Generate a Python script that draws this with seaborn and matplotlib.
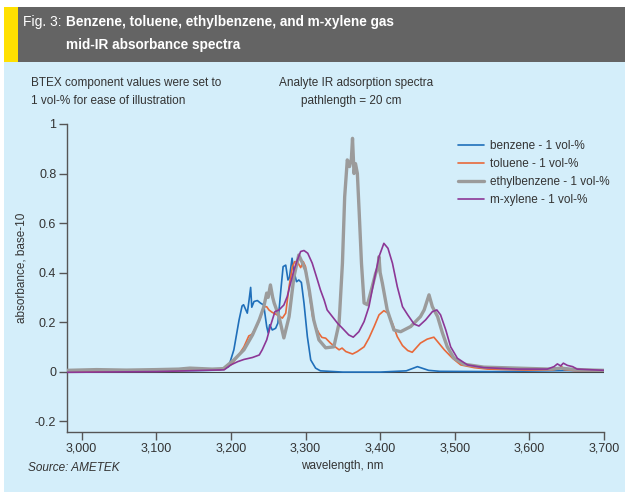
import matplotlib
matplotlib.use('Agg')
import matplotlib.pyplot as plt
from matplotlib.patches import Rectangle
import numpy as np
import pandas as pd
import seaborn as sns

sns.set_theme(style='ticks')
plt.rcParams['font.family'] = ['Liberation Sans', 'DejaVu Sans']

# benzene
benzene_wl = [2980, 3050, 3100, 3150, 3185, 3197, 3204, 3211, 3215, 3217, 3222, 3224,
              3226.5, 3228, 3231, 3235.5, 3240, 3244, 3248, 3250, 3252, 3255.5, 3260,
              3263, 3267, 3270, 3273.5, 3276.5, 3278.5, 3282, 3284, 3288, 3291, 3294.5,
              3298, 3302.5, 3307, 3313.5, 3320, 3350, 3400, 3435, 3450, 3465, 3480,
              3550, 3600, 3650, 3700]
benzene_ab = [0.003, 0.002, 0.003, 0.004, 0.006, 0.02, 0.088, 0.209, 0.265, 0.27, 0.236,
              0.28, 0.34, 0.26, 0.283, 0.287, 0.276, 0.269, 0.182, 0.156, 0.189, 0.168,
              0.175, 0.196, 0.33, 0.424, 0.43, 0.37, 0.38, 0.458, 0.41, 0.363, 0.37, 0.36,
              0.276, 0.141, 0.047, 0.014, 0.003, -0.002, -0.002, 0.003, 0.02, 0.005,
              0.001, 0.0, 0.002, 0.004, 0.002]

# toluene
toluene_wl = [2980, 3100, 3185, 3200, 3209, 3217.5, 3224, 3228, 3235.5, 3240, 3244, 3248,
              3251, 3255, 3262, 3269, 3273.5, 3278, 3282.5, 3285.5, 3289, 3293.5, 3297,
              3300, 3305, 3309.5, 3313.5, 3318, 3322, 3327, 3333.5, 3338, 3345, 3349,
              3354, 3363, 3369.5, 3378.5, 3385, 3392, 3398.5, 3405, 3410.5, 3416.5, 3423,
              3430, 3437, 3443, 3454, 3463, 3472, 3477, 3486, 3497, 3508, 3526, 3544,
              3600, 3630, 3640, 3643, 3646, 3660, 3700]
toluene_ab = [0.002, 0.003, 0.008, 0.027, 0.06, 0.10, 0.144, 0.15, 0.189, 0.222, 0.262,
              0.262, 0.249, 0.24, 0.229, 0.216, 0.236, 0.344, 0.424, 0.444, 0.444, 0.42,
              0.444, 0.424, 0.316, 0.222, 0.182, 0.155, 0.138, 0.135, 0.115, 0.104, 0.088,
              0.095, 0.081, 0.071, 0.081, 0.10, 0.135, 0.182, 0.229, 0.246, 0.236, 0.195,
              0.141, 0.105, 0.085, 0.078, 0.115, 0.131, 0.139, 0.121, 0.088, 0.054, 0.027,
              0.016, 0.01, 0.006, 0.006, 0.012, 0.022, 0.008, 0.004, 0.003]

# ethylbenzene
ethyl_wl = [2980, 3020, 3060, 3100, 3130, 3145, 3160, 3175, 3190, 3204, 3217.5, 3229,
            3238, 3244, 3248, 3250, 3253, 3256, 3258, 3264.5, 3271, 3278, 3284.5, 3291,
            3296, 3300, 3305, 3311, 3318, 3327, 3338, 3345, 3349.5, 3352.5, 3356, 3359,
            3361.5, 3363, 3365, 3367, 3369.5, 3372, 3375, 3378.5, 3383, 3389.5, 3394,
            3397, 3398.5, 3400, 3403, 3409.5, 3418.5, 3427.5, 3441, 3454, 3459, 3465.5,
            3470, 3477, 3483.5, 3490, 3499, 3512, 3539, 3584, 3629, 3642, 3655, 3673, 3700]
ethyl_ab = [0.005, 0.008, 0.006, 0.008, 0.01, 0.014, 0.012, 0.01, 0.012, 0.047, 0.088,
            0.148, 0.209, 0.26, 0.317, 0.3, 0.35, 0.3, 0.277, 0.222, 0.136, 0.222, 0.383,
            0.471, 0.438, 0.41, 0.33, 0.209, 0.128, 0.096, 0.10, 0.196, 0.438, 0.706,
            0.855, 0.828, 0.86, 0.942, 0.80, 0.84, 0.80, 0.64, 0.438, 0.277, 0.27, 0.344,
            0.397, 0.42, 0.464, 0.40, 0.357, 0.249, 0.168, 0.161, 0.182, 0.222, 0.249,
            0.31, 0.262, 0.222, 0.156, 0.10, 0.054, 0.03, 0.018, 0.014, 0.01, 0.014,
            0.01, 0.007, 0.005]

# m-xylene
xylene_wl = [2980, 3100, 3191, 3200, 3209, 3217.5, 3229, 3238, 3242, 3248, 3253.5, 3259,
             3264.5, 3271, 3275.5, 3280, 3284.5, 3289, 3293.5, 3298, 3303, 3309, 3316,
             3320, 3325, 3329, 3336, 3343, 3349.5, 3358, 3364, 3371.5, 3378.5, 3385,
             3392, 3398.5, 3405, 3410.5, 3416.5, 3423, 3430, 3437, 3445.5, 3452, 3461,
             3470, 3476, 3481, 3488, 3494.5, 3503.5, 3517, 3539, 3584, 3624, 3633,
             3637.5, 3642, 3645.5, 3651, 3658, 3664, 3700]
xylene_ab = [-0.003, 0.0, 0.007, 0.027, 0.04, 0.049, 0.057, 0.067, 0.088, 0.128, 0.189,
             0.242, 0.249, 0.269, 0.303, 0.357, 0.41, 0.45, 0.485, 0.489, 0.478, 0.438,
             0.37, 0.33, 0.289, 0.249, 0.222, 0.195, 0.175, 0.148, 0.139, 0.161, 0.202,
             0.262, 0.37, 0.464, 0.518, 0.498, 0.438, 0.343, 0.262, 0.229, 0.192, 0.184,
             0.209, 0.242, 0.249, 0.229, 0.168, 0.10, 0.054, 0.027, 0.016, 0.01, 0.01,
             0.02, 0.031, 0.023, 0.034, 0.025, 0.02, 0.01, 0.005]

x_ticks = [3000, 3100, 3200, 3300, 3400, 3500, 3600, 3700]
y_ticks = [-0.2, 0, 0.2, 0.4, 0.6, 0.8, 1]

BG = '#d4eefa'
TXT = '#333333'
FS = 8.5

series = [
    ('benzene - 1 vol-%', benzene_wl, benzene_ab, '#1f6fba', 1.2),
    ('toluene - 1 vol-%', toluene_wl, toluene_ab, '#e8693a', 1.2),
    ('ethylbenzene - 1 vol-%', ethyl_wl, ethyl_ab, '#9b9b9b', 2.4),
    ('m-xylene - 1 vol-%', xylene_wl, xylene_ab, '#8c3796', 1.2),
]

fig = plt.figure(figsize=(6.25, 4.92), dpi=100, facecolor=BG)
W, H = 625, 492


def fx(px):
    return px / W


def fy(py):
    return 1 - py / H


# header band
fig.patches.append(Rectangle((0, fy(7)), 1, 7 / H, transform=fig.transFigure,
                             facecolor='white', edgecolor='none'))
fig.patches.append(Rectangle((0, 0), fx(4), 1, transform=fig.transFigure,
                             facecolor='white', edgecolor='none'))
fig.patches.append(Rectangle((fx(4), fy(62)), 1, 55 / H, transform=fig.transFigure,
                             facecolor='#646464', edgecolor='none'))
fig.patches.append(Rectangle((fx(4), fy(62)), 14 / W, 55 / H, transform=fig.transFigure,
                             facecolor='#ffe000', edgecolor='none'))

fig.text(fx(23), fy(22), 'Fig. 3:', color='white', fontsize=10, va='center')
fig.text(fx(66), fy(22), 'Benzene, toluene, ethylbenzene, and m-xylene gas',
         color='white', fontsize=9.8, fontweight='bold', va='center')
fig.text(fx(66), fy(45), 'mid-IR absorbance spectra',
         color='white', fontsize=9.8, fontweight='bold', va='center')

ax = fig.add_axes([fx(66.7), fy(432), fx(604) - fx(66.7), fy(124) - fy(432)])
ax.set_facecolor(BG)

ax.axhline(0, color='#444444', lw=0.8, zorder=1)
for label, wl, ab, col, lw in series:
    sns.lineplot(x=wl, y=ab, ax=ax, color=col, lw=lw, label=label,
                 estimator=None, sort=False, zorder=3)

ax.set_xlim(2980, 3700)
ax.set_ylim(-0.244, 1.0)
ax.set_xticks(x_ticks)
ax.set_xticklabels([f'{t:,}' for t in x_ticks])
ax.set_yticks(y_ticks)
ax.set_yticklabels(['-0.2', '0', '0.2', '0.4', '0.6', '0.8', '1'])
for s in ['top', 'right']:
    ax.spines[s].set_visible(False)
for s in ['left', 'bottom']:
    ax.spines[s].set_color('#555555')
    ax.spines[s].set_linewidth(1.0)
ax.tick_params(axis='both', length=6, width=1.0, color='#555555',
               labelsize=FS + 0.5, labelcolor=TXT, pad=1.5)
ax.set_xlabel('')
ax.set_ylabel('')

leg = ax.legend(loc='upper left', bbox_to_anchor=(fx(458), fy(140)),
                bbox_transform=fig.transFigure, frameon=False, fontsize=FS,
                handlelength=2.2, handletextpad=0.55, labelspacing=0.52,
                borderpad=0, borderaxespad=0)
for t in leg.get_texts():
    t.set_color(TXT)

fig.text(fx(31), fy(83), 'BTEX component values were set to', fontsize=FS,
         color=TXT, va='center')
fig.text(fx(31), fy(101), '1 vol-% for ease of illustration', fontsize=FS,
         color=TXT, va='center')
fig.text(fx(356), fy(83), 'Analyte IR adsorption spectra', fontsize=FS,
         color=TXT, va='center', ha='center')
fig.text(fx(351), fy(101), 'pathlength = 20 cm', fontsize=FS,
         color=TXT, va='center', ha='center')

fig.text(fx(22), fy(268), 'absorbance, base-10', fontsize=FS, color=TXT,
         rotation=90, va='center', ha='center')
fig.text(fx(342), fy(466), 'wavelength, nm', fontsize=FS, color=TXT,
         va='center', ha='center')
fig.text(fx(28), fy(468), 'Source: AMETEK', fontsize=FS, color=TXT,
         va='center', style='italic')

fig.savefig('out.png', dpi=100, facecolor=BG)
